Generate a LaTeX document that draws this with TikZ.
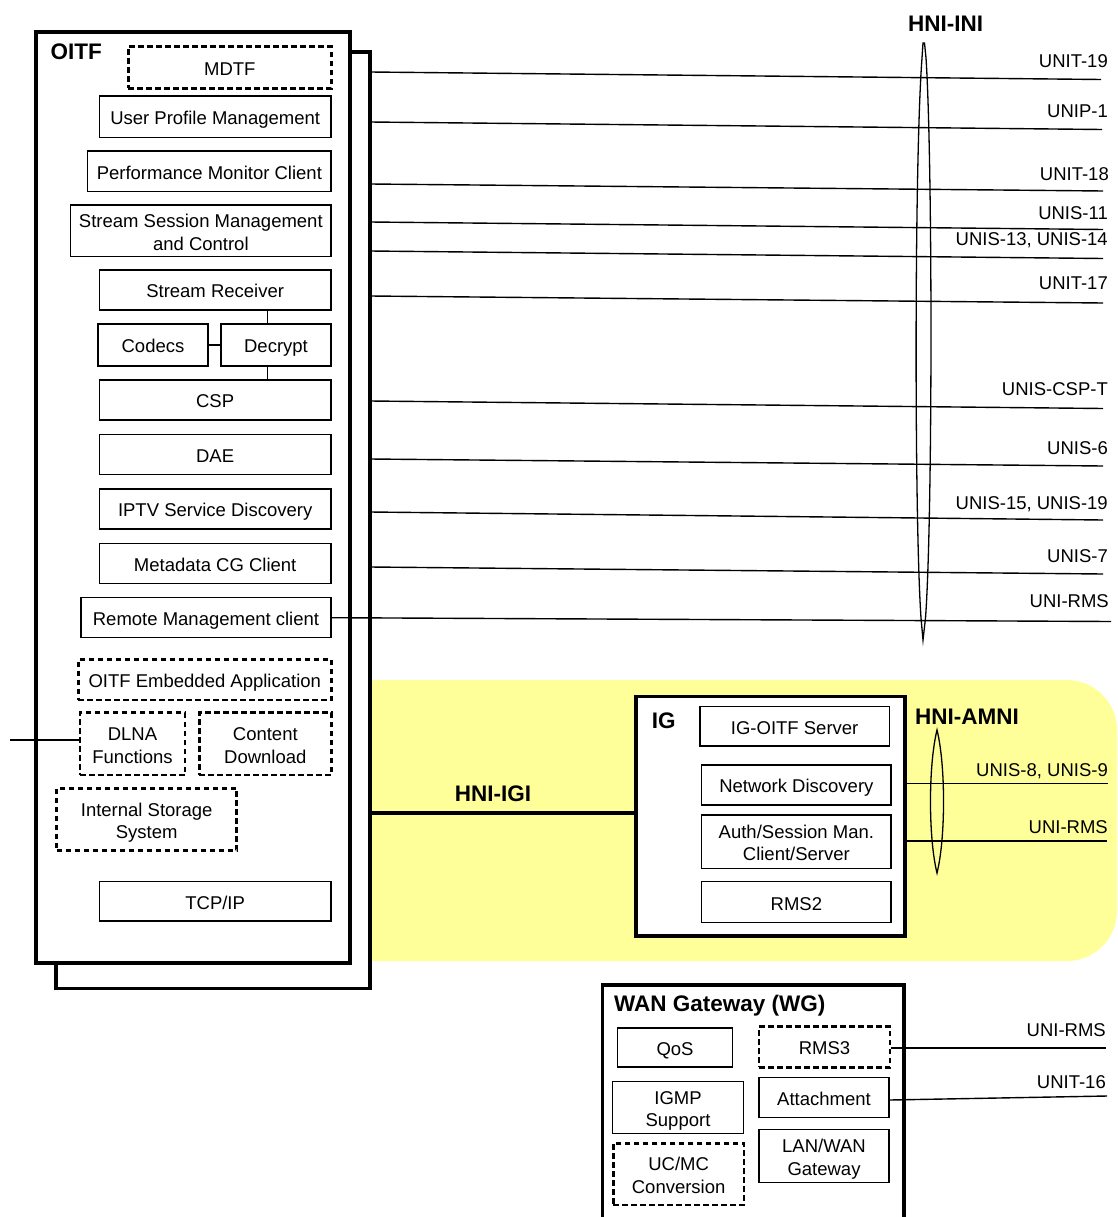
\documentclass[tikz,border=0pt]{standalone}
\usepackage{fontspec}
\setmainfont{Liberation Sans}
\definecolor{hniyellow}{HTML}{FFFF99}
\newcommand\bxnode[7]{\node[#1, minimum width={(#5-#3)*1pt}, minimum height={(#6-#4)*1pt}] (#2) at ({(#3+#5)/2},{(#4+#6)/2}) {#7};}
\newcommand\twolines[2]{\rule{0pt}{20pt}#1\\#2\rule[-4.1pt]{0pt}{4.1pt}}
\begin{document}
\begin{tikzpicture}[x=1pt,y=-1pt,
  every node/.style={font=\fontsize{18.5}{22.5}\selectfont},
  fbox/.style={draw, line width=1.2pt, inner sep=0pt, align=center, fill=white},
  one/.style={text height=15.9pt, text depth=0pt},
  dbox/.style={fbox, line width=2.6pt, dash pattern=on 5.5pt off 3.5pt},
  bigbox/.style={draw, line width=3.2pt, fill=white, inner sep=0pt},
  title/.style={font=\fontsize{22.5}{26}\selectfont\bfseries, inner sep=0pt, text height=16.1pt, text depth=0pt},
  lbl/.style={anchor=east, inner sep=0pt, text height=13.3pt, text depth=0pt},
  iface/.style={line width=1.4pt},
  conn/.style={line width=1.2pt},
  lens/.style={draw, line width=1.3pt}
]
\useasboundingbox (0,0) rectangle (1117,1217);
% yellow home network area
\fill[hniyellow, rounded corners=50pt] (300,680) rectangle (1117,961);

% OITF containers
\bxnode{bigbox}{oitfb}{56}{52}{370}{988.5}{}
\bxnode{bigbox}{oitf}{36}{32}{350}{963}{}
\node[title, anchor=west] (oitft) at (50.5,51) {OITF};

\bxnode{dbox,one}{mdtf}{128.3}{46.7}{331.3}{88.3}{MDTF}
\bxnode{fbox,one}{upm}{99.3}{96}{331}{137.3}{User Profile Management}
\bxnode{fbox,one}{pmc}{87.7}{151}{331}{191.7}{Performance Monitor Client}
\bxnode{fbox}{ssmc}{70.7}{205}{331}{256.7}{\twolines{Stream Session Management}{and Control}}
\bxnode{fbox,one}{sr}{99.3}{270}{331}{310}{Stream Receiver}
\bxnode{fbox,one,line width=1.7pt}{cod}{98.3}{324.3}{207.7}{365.7}{Codecs}
\bxnode{fbox,one,line width=1.7pt}{dec}{221}{324.3}{331}{365.7}{Decrypt}
\bxnode{fbox,one}{csp}{99.3}{380}{331}{420}{CSP}
\bxnode{fbox,one}{dae}{99.3}{434.3}{331}{474.3}{DAE}
\bxnode{fbox,one}{iptv}{99.3}{489}{331}{529}{IPTV Service Discovery}
\bxnode{fbox,one}{meta}{99.3}{543.3}{331}{583.3}{Metadata CG Client}
\bxnode{fbox,one}{rmc}{81}{597.7}{331}{637.7}{Remote Management client}
\bxnode{dbox,one}{emb}{78.3}{659.3}{331.3}{700}{OITF Embedded Application}
\bxnode{dbox}{dlna}{80}{712.7}{185}{775}{\twolines{DLNA}{Functions}}
\bxnode{dbox}{cd}{199.3}{712.7}{331.3}{775}{\twolines{Content}{Download}}
\bxnode{dbox}{iss}{56.7}{788.3}{236.7}{850.7}{\twolines{Internal Storage}{System}}
\bxnode{fbox,one}{tcp}{99.3}{881.7}{331}{921}{TCP/IP}

% internal connectors
\coordinate (vx) at (267.7,0);
\draw[conn] (sr.south -| vx) -- (dec.north -| vx);
\draw[conn] (dec.south -| vx) -- (csp.north -| vx);
\draw[conn] (cod.east) -- (dec.west);
\coordinate (dl) at (10,740);
\draw[conn] (dl) -- (dlna.west |- dl);

% HNI-INI interface lines
\coordinate (a1) at (370,72);   \coordinate (b1) at (1101,79.5);
\coordinate (a2) at (370,122);  \coordinate (b2) at (1102,129.5);
\coordinate (a3) at (370,184);  \coordinate (b3) at (1103,191);
\coordinate (a4) at (370,222);  \coordinate (b4) at (1103,229.5);
\coordinate (a5) at (370,251);  \coordinate (b5) at (1103,258.5);
\coordinate (a6) at (370,296);  \coordinate (b6) at (1103,303);
\coordinate (a7) at (370,401);  \coordinate (b7) at (1103,408.5);
\coordinate (a8) at (370,459);  \coordinate (b8) at (1103,466);
\coordinate (a9) at (370,512);  \coordinate (b9) at (1103,520);
\coordinate (a10) at (370,567); \coordinate (b10) at (1103,574);
\coordinate (b11) at (1111,621.5);
\foreach \i in {1,...,10} {\draw[iface] (a\i) -- (b\i);}
\draw[iface] (rmc.east) -- (b11);

\draw[lens] (923,43) -- (922,58) .. controls (914.3,160) and (914.3,520) .. (921,618) -- (923,640) -- (925.5,618) .. controls (932.7,520) and (932.7,160) .. (926,58) -- (924.5,43) -- cycle;
\node[title] (hniini) at (945.5,23) {HNI-INI};

\node[lbl] (t1) at (1108,61) {UNIT-19};
\node[lbl] (t2) at (1108,111) {UNIP-1};
\node[lbl] (t3) at (1109,174) {UNIT-18};
\node[lbl] (t4) at (1108,212.5) {UNIS-11};
\node[lbl] (t5) at (1108,239) {UNIS-13, UNIS-14};
\node[lbl] (t6) at (1108,282.5) {UNIT-17};
\node[lbl] (t7) at (1108,389) {UNIS-CSP-T};
\node[lbl] (t8) at (1108,447.5) {UNIS-6};
\node[lbl] (t9) at (1108,502.5) {UNIS-15, UNIS-19};
\node[lbl] (t10) at (1108,556) {UNIS-7};
\node[lbl] (t11) at (1109,601) {UNI-RMS};

% IG
\bxnode{bigbox}{ig}{636}{696.7}{905}{936}{}
\node[title, anchor=west] (igt) at (651.7,720.5) {IG};
\bxnode{fbox,one}{igs}{700}{706.7}{889.3}{746}{IG-OITF Server}
\bxnode{fbox,one}{nd}{701.7}{765}{891}{805}{Network Discovery}
\bxnode{fbox}{auth}{701.7}{815}{891}{868.3}{\twolines{Auth/Session Man.}{Client/Server}}
\bxnode{fbox,one}{rms2}{701.7}{881.7}{891}{922.7}{RMS2}

\coordinate (igi) at (370,813);
\draw[line width=3.4pt] (igi) -- (ig.west |- igi);
\node[title] (hniigi) at (493,793) {HNI-IGI};

\coordinate (c1) at (905,783.3); \coordinate (d1) at (1108,783.3);
\coordinate (c2) at (905,841);   \coordinate (d2) at (1107,841);
\draw[iface] (c1) -- (d1);
\draw[iface] (c2) -- (d2);
\draw[lens] (937,730) .. controls (928.3,765) and (928.3,838) .. (937,873) .. controls (945.7,838) and (945.7,765) .. (937,730) -- cycle;
\node[title, anchor=west] (hniamni) at (915,716) {HNI-AMNI};
\node[lbl] (t12) at (1108,770) {UNIS-8, UNIS-9};
\node[lbl] (t13) at (1108,826.5) {UNI-RMS};

% WAN Gateway
\bxnode{bigbox}{wg}{602.7}{985}{904}{1240}{}
\node[title, anchor=west] (wgt) at (614,1003) {WAN Gateway (WG)};
\bxnode{fbox,one}{qos}{617.3}{1028}{732.7}{1067}{QoS}
\bxnode{dbox,one}{rms3}{759}{1026.7}{890}{1067.3}{RMS3}
\bxnode{fbox}{igmp}{612.7}{1081.7}{743.3}{1133.3}{\twolines{IGMP}{Support}}
\bxnode{fbox,one}{att}{759}{1077.7}{889}{1117.7}{Attachment}
\bxnode{dbox}{ucmc}{613.3}{1143.3}{744}{1205}{\twolines{UC/MC}{Conversion}}
\bxnode{fbox}{lan}{759}{1129.3}{889}{1182.3}{\twolines{LAN/WAN}{Gateway}}

\coordinate (e1) at (1106,1048);
\coordinate (e2) at (1107,1096);
\draw[iface] (rms3.east |- e1) -- (e1);
\draw[iface] (att.east |- 0,1100) -- (e2);
\node[lbl] (t14) at (1106,1030) {UNI-RMS};
\node[lbl] (t15) at (1106,1082) {UNIT-16};
\end{tikzpicture}
\end{document}
